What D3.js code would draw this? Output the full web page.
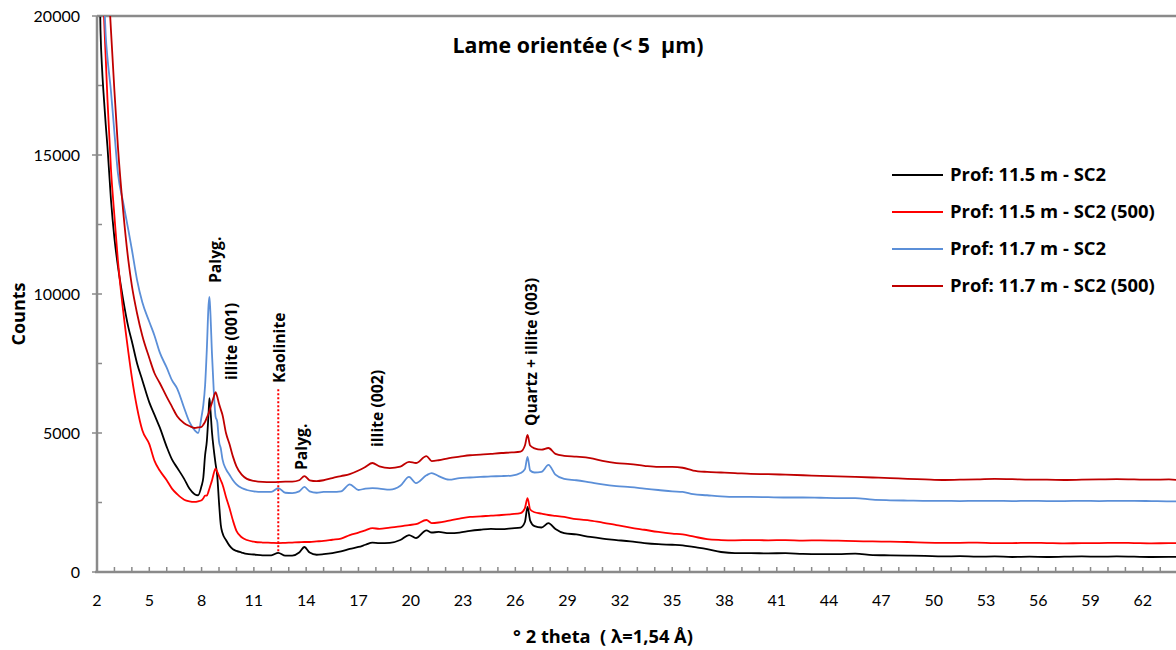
<!DOCTYPE html>
<html><head><meta charset="utf-8">
<script src="https://cdn.jsdelivr.net/npm/d3@7/dist/d3.min.js"></script>
<style>
html,body{margin:0;padding:0;background:#fff;}
svg{display:block;font-family:Lato,"Open Sans",sans-serif;}
.b{font-family:"Open Sans",Lato,sans-serif;font-weight:bold;}
</style></head>
<body><svg id="chart" width="1176" height="650"></svg>
<script>
// ---- data ----
const twoTheta = [
 2.1,2.2,2.3,2.4,2.5,2.6,2.8,3.0,3.2,3.5,
 3.8,4.0,4.3,4.6,5.0,5.3,5.6,6.0,6.3,6.6,
 7.0,7.3,7.6,7.8,8.0,8.1,8.2,8.3,8.4,8.45,
 8.5,8.6,8.7,8.8,8.9,9.0,9.1,9.2,9.4,9.6,
 9.8,10.0,10.3,10.6,11.0,11.5,12.0,12.4,12.8,13.2,
 13.6,13.9,14.2,14.6,15.0,15.5,16.0,16.5,17.0,17.4,
 17.8,18.2,18.8,19.4,19.9,20.3,20.9,21.2,21.6,22.2,
 22.8,23.4,24.0,24.6,25.2,25.8,26.3,26.55,26.7,26.85,
 27.1,27.5,27.9,28.3,28.8,29.5,30.3,31.0,31.8,32.6,
 33.4,34.2,35.0,35.6,36.2,37.0,37.8,38.6,39.5,40.5,
 41.5,42.5,43.5,44.5,45.5,46.5,47.5,48.5,49.5,50.5,
 51.5,52.5,53.5,54.5,55.5,56.5,57.5,58.5,59.5,60.5,
 61.5,62.5,63.5,64.0];

const counts115 = [
 23000,19500,18000,17000,16100,15300,13400,12000,11000,9800,
 8800,8300,7500,6900,6100,5650,5200,4500,4050,3750,
 3350,3000,2800,2760,3100,3400,4200,4700,5700,6250,
 5900,5000,4400,3900,3450,2500,1700,1400,1150,950,
 820,760,700,650,630,600,600,690,590,590,
 700,900,700,620,640,680,740,830,900,980,
 1060,1040,1050,1150,1330,1220,1500,1420,1440,1400,
 1420,1480,1520,1550,1540,1570,1600,1800,2340,1850,
 1650,1600,1760,1550,1400,1350,1260,1200,1150,1100,
 1040,1000,980,960,900,820,720,680,680,670,
 680,650,640,640,660,610,600,590,580,560,
 570,550,560,540,550,540,550,560,550,560,
 550,540,545,540];

const counts115_500 = [
 28000,25000,22000,20000,18500,17000,14500,12800,11200,9400,
 7900,7000,5900,5100,4600,4000,3650,3300,3000,2800,
 2600,2540,2520,2540,2580,2650,2750,2750,2900,3000,
 3100,3300,3550,3720,3600,3450,3300,3150,2700,2300,
 1850,1480,1250,1150,1090,1060,1050,1040,1050,1060,
 1070,1080,1080,1100,1120,1160,1200,1330,1420,1500,
 1580,1550,1600,1640,1690,1720,1870,1760,1780,1850,
 1920,1980,2000,2030,2050,2080,2120,2300,2660,2250,
 2150,2100,2050,2020,1980,1900,1850,1780,1690,1600,
 1520,1440,1380,1350,1280,1180,1150,1140,1150,1140,
 1150,1130,1140,1130,1110,1100,1090,1080,1060,1050,
 1050,1060,1040,1040,1050,1040,1030,1040,1040,1050,
 1040,1030,1040,1040];

const counts117 = [
 26000,23500,22000,20800,19300,18500,17300,15800,14350,13300,
 12300,11600,10500,9700,9000,8500,7900,7350,6900,6600,
 5900,5400,5100,5000,5600,6000,6700,8000,9600,9900,
 9400,7800,6500,5600,5400,4700,4450,4050,3700,3500,
 3300,3150,3020,2950,2900,2880,2880,3020,2850,2840,
 2900,3060,2900,2850,2880,2880,2900,3150,2950,3000,
 3020,3000,2960,3100,3420,3200,3480,3560,3450,3320,
 3380,3400,3420,3440,3450,3470,3560,3700,4140,3650,
 3580,3600,3850,3500,3350,3300,3220,3150,3090,3050,
 3000,2950,2900,2880,2800,2760,2720,2700,2700,2690,
 2680,2680,2670,2660,2660,2600,2580,2570,2560,2560,
 2550,2560,2560,2550,2560,2550,2550,2560,2550,2560,
 2560,2550,2540,2540];

const counts117_500 = [
 30000,28000,26000,24500,23000,21800,19500,17300,15300,13000,
 11200,10300,9300,8500,7700,7150,6800,6300,5950,5600,
 5350,5250,5180,5200,5220,5300,5400,5550,5700,5800,
 5900,6100,6300,6470,6300,6050,5850,5650,5000,4600,
 4150,3800,3500,3350,3280,3240,3230,3240,3250,3250,
 3300,3450,3300,3270,3300,3380,3450,3520,3650,3780,
 3920,3800,3740,3790,3960,3920,4170,3990,4020,4100,
 4150,4200,4220,4250,4280,4300,4330,4550,4930,4550,
 4450,4400,4460,4250,4180,4150,4100,4000,3920,3880,
 3820,3780,3780,3750,3650,3600,3580,3560,3530,3520,
 3500,3480,3460,3440,3420,3400,3380,3350,3330,3310,
 3320,3330,3350,3340,3320,3320,3310,3320,3330,3340,
 3330,3320,3330,3310];

const seriesNames = ["Prof: 11.5 m - SC2","Prof: 11.5 m - SC2 (500)","Prof: 11.7 m - SC2","Prof: 11.7 m - SC2 (500)"];
const seriesColors = ["#000000","#ff0000","#5b8fd8","#c00000"];
const seriesValues = [counts115, counts115_500, counts117, counts117_500];

const xTickLabels = [2,5,8,11,14,17,20,23,26,29,32,35,38,41,44,47,50,53,56,59,62];
const yTickLabels = [0,5000,10000,15000,20000];

const peakLabels = ["Palyg.","illite (001)","Kaolinite","Palyg.","illite (002)","Quartz + illite (003)"];
const kaoliniteLine = [12.4, 750, 6600];

// ---- layout ----
const svg = d3.select("#chart");
const W = 1176, H = 650;
const x = d3.scaleLinear().domain([2, 64]).range([97, 1177.7]);
const y = d3.scaleLinear().domain([0, 20000]).range([572, 16]);
const axisColor = "#8a8a8a";

function fit(sel, target) {
  const fs = +sel.attr("font-size");
  const w = sel.node().getComputedTextLength();
  if (w > 0) sel.attr("font-size", (fs * target / w).toFixed(2));
  return sel;
}
function fitSize(text, base, target) {
  const t = svg.append("text").attr("class","b").attr("font-size",base).text(text);
  const s = base * target / t.node().getComputedTextLength();
  t.remove();
  return s.toFixed(2);
}

svg.append("defs").append("clipPath").attr("id","plotclip")
  .append("rect").attr("x",97).attr("y",y(20000)).attr("width",W-97).attr("height",y(0)-y(20000));

// top border line
svg.append("line").attr("x1",97).attr("x2",W).attr("y1",y(20000)).attr("y2",y(20000))
  .attr("stroke",axisColor).attr("stroke-width",2.5);

// series
const line = d3.line().x((d,i)=>x(twoTheta[i])).y(d=>y(d)).curve(d3.curveMonotoneX);
const g = svg.append("g").attr("clip-path","url(#plotclip)");
seriesValues.forEach((vals, k) => {
  g.append("path").datum(vals).attr("d", line)
    .attr("fill","none").attr("stroke",seriesColors[k]).attr("stroke-width",1.8)
    .attr("stroke-linejoin","round");
});

// kaolinite dotted line
svg.append("line")
  .attr("x1",x(kaoliniteLine[0])).attr("x2",x(kaoliniteLine[0]))
  .attr("y1",y(kaoliniteLine[1])).attr("y2",y(kaoliniteLine[2]))
  .attr("stroke","#ff0000").attr("stroke-width",2).attr("stroke-dasharray","2,2");

// x axis
const xAxisG = svg.append("g");
xAxisG.append("line").attr("x1",95).attr("x2",W).attr("y1",y(0)).attr("y2",y(0))
  .attr("stroke",axisColor).attr("stroke-width",2.5);
const minorX = d3.range(3, 65, 1);
xAxisG.selectAll("line.tk").data(minorX).enter().append("line")
  .attr("x1",d=>x(d)).attr("x2",d=>x(d)).attr("y1",y(0)).attr("y2",y(0)-5)
  .attr("stroke",axisColor).attr("stroke-width",1.5);
xAxisG.selectAll("text").data(xTickLabels).enter().append("text")
  .attr("x",d=>x(d)).attr("y",600).attr("dy","0.35em").attr("text-anchor","middle")
  .attr("font-size",16).attr("fill","#000").text(d=>d);

// y axis
const yAxisG = svg.append("g");
yAxisG.append("line").attr("x1",97).attr("x2",97).attr("y1",y(20000)).attr("y2",y(0)+1)
  .attr("stroke",axisColor).attr("stroke-width",2.5);
yAxisG.selectAll("line.maj").data(yTickLabels).enter().append("line")
  .attr("x1",92).attr("x2",102).attr("y1",d=>y(d)).attr("y2",d=>y(d))
  .attr("stroke",axisColor).attr("stroke-width",1.5);
yAxisG.selectAll("line.min").data([2500,7500,12500,17500]).enter().append("line")
  .attr("x1",97).attr("x2",102).attr("y1",d=>y(d)).attr("y2",d=>y(d))
  .attr("stroke",axisColor).attr("stroke-width",1.5);
yAxisG.selectAll("text").data(yTickLabels).enter().append("text")
  .attr("x",80).attr("y",d=>y(d)).attr("dy","0.35em").attr("text-anchor","end")
  .attr("font-size",16).attr("fill","#000").text(d=>d);

// axis titles
fit(svg.append("text").attr("class","b").attr("transform","translate(19,314) rotate(-90)")
  .attr("text-anchor","middle").attr("dy","0.35em").attr("font-size",16).text("Counts"), 63);
fit(svg.append("text").attr("class","b").attr("x",603).attr("y",637).attr("dy","0.35em")
  .attr("text-anchor","middle").attr("font-size",16)
  .style("white-space","pre").text("° 2 theta  ( λ=1,54 Å)"), 180);

// title
fit(svg.append("text").attr("class","b").attr("x",578).attr("y",46).attr("dy","0.35em")
  .attr("text-anchor","middle").attr("font-size",19)
  .style("white-space","pre").text("Lame orientée (< 5  µm)"), 251);

// peak annotations (one shared size)
const annSize = fitSize("illite (001)", 15, 77);
const annX = [215, 231, 279, 301, 377, 531];
const annBottom = [283, 380, 383, 470, 447, 426];
peakLabels.forEach((t,i)=>{
  svg.append("text").attr("class","b")
    .attr("transform",`translate(${annX[i]},${annBottom[i]}) rotate(-90)`)
    .attr("dy","0.35em").attr("text-anchor","start").attr("font-size",annSize)
    .text(t);
});

// legend
const legY = [175, 212, 249, 286];
const legendSize = fitSize(seriesNames[1], 16, 205);
seriesNames.forEach((n,i)=>{
  svg.append("line").attr("x1",892).attr("x2",943).attr("y1",legY[i]).attr("y2",legY[i])
    .attr("stroke",seriesColors[i]).attr("stroke-width",2);
  svg.append("text").attr("class","b").attr("x",950).attr("y",legY[i]).attr("dy","0.35em")
    .attr("font-size",legendSize).text(n);
});
</script></body></html>
